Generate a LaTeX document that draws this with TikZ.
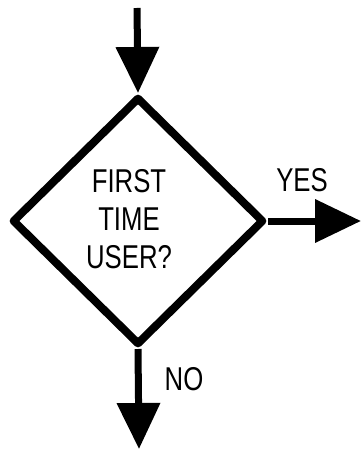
\documentclass[tikz,border=0pt]{standalone}
\usepackage{fontspec}
\newfontfamily\flowfont[FakeStretch=0.78]{Liberation Sans}
\usetikzlibrary{shapes.geometric,arrows.meta}
\begin{document}
\begin{tikzpicture}[x=1pt, y=-1pt,
    decision/.style={diamond, draw, line width=8pt, line join=round,
      minimum width=252pt, minimum height=248pt, inner sep=0pt},
    flowtext/.style={font=\flowfont\fontsize{33}{38}\selectfont, align=center},
    flow/.style={line width=7pt, -{Triangle[width=42pt,length=46pt]}}]
  \useasboundingbox (0,0) rectangle (362,454);
  %
  \node[decision] (user) at (138,221) {};                        % test box
  \node[flowtext] (question) at (129,219) {FIRST\\TIME\\USER?};
  %
  \coordinate (in)  at (137,8);       % loose ends
  \coordinate (yes) at (361,221);
  \coordinate (no)  at (139,449);
  %
  \draw[flow] (in) -- (user.north);
  \draw[flow] (user.east) -- (yes);
  \draw[flow] (user.south) -- (no);
  %
  \node[flowtext] (yeslabel) at (302,180) {YES};                 % branch labels
  \node[flowtext] (nolabel)  at (184,379) {NO};
\end{tikzpicture}
\end{document}
